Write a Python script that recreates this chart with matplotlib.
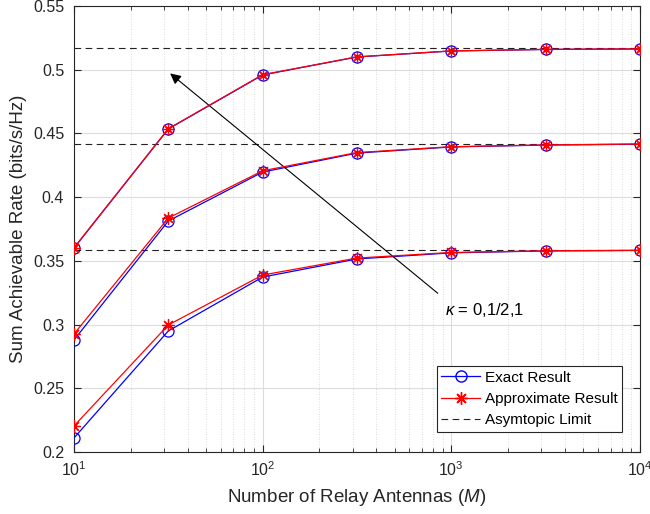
import numpy as np
import matplotlib
matplotlib.use("Agg")
import matplotlib.pyplot as plt
from matplotlib.ticker import LogLocator, NullFormatter
from matplotlib.lines import Line2D

plt.rcParams['font.family'] = ['Liberation Sans', 'DejaVu Sans']
plt.rcParams['mathtext.fontset'] = 'custom'
plt.rcParams['mathtext.rm'] = 'Liberation Sans'
plt.rcParams['mathtext.it'] = 'Liberation Sans:italic'

M = [10, 31.62, 100, 316.2, 1000, 3162, 10000]

exact = [
    [0.360, 0.4535, 0.4959, 0.5100, 0.5147, 0.5159, 0.5163],
    [0.2879, 0.3813, 0.4197, 0.4346, 0.4394, 0.4409, 0.4416],
    [0.2110, 0.2950, 0.3373, 0.3515, 0.3563, 0.3578, 0.3582],
]
approx = [
    [0.3603, 0.4537, 0.4961, 0.5101, 0.5148, 0.5160, 0.5164],
    [0.2926, 0.3836, 0.4207, 0.4350, 0.4396, 0.4410, 0.4417],
    [0.2204, 0.2997, 0.3389, 0.3522, 0.3566, 0.3579, 0.3583],
]
limits = [0.5170, 0.4418, 0.3585]

fig = plt.figure(figsize=(6.5, 5.14), dpi=100)
ax = fig.add_axes([0.1138, 0.1206, 0.8708, 0.8677])

for e, a, lim in zip(exact, approx, limits):
    ax.plot([M[0], M[-1]], [lim, lim], '--', color='#222222', lw=0.8, dashes=(6, 4), zorder=2)
    ax.plot(M, e, '-', color='blue', lw=0.9, marker='o', ms=8, mfc='none', mec='blue', mew=0.9, zorder=3)
    ax.plot(M, a, '-', color='red', lw=0.9, marker=(8, 2, 0), ms=9, mec='red', mew=0.9, zorder=4)

ax.set_xscale('log')
ax.set_xlim(10, 1e4)
ax.set_ylim(0.2, 0.55)
ax.set_yticks([0.2, 0.25, 0.3, 0.35, 0.4, 0.45, 0.5, 0.55])
ax.set_yticklabels(['0.2', '0.25', '0.3', '0.35', '0.4', '0.45', '0.5', '0.55'])
ax.set_xticks([10, 100, 1000, 10000])
ax.set_xticklabels([r'$10^{1}$', r'$10^{2}$', r'$10^{3}$', r'$10^{4}$'])
ax.xaxis.set_minor_locator(LogLocator(base=10, subs=np.arange(2, 10)))
ax.xaxis.set_minor_formatter(NullFormatter())

ax.grid(True, which='major', color='#dcdcdc', lw=0.8, ls='-')
ax.grid(True, which='minor', axis='x', color='#d0d0d0', lw=0.6, ls=(0, (1, 2)))
ax.set_axisbelow(True)

ax.tick_params(which='both', direction='in', top=True, right=True, labelsize=11.5, colors='#262626')
ax.tick_params(which='major', length=5, width=0.8)
ax.tick_params(which='minor', length=3, width=0.6)
ax.tick_params(axis='y', pad=7)
ax.tick_params(axis='x', pad=6)
for s in ax.spines.values():
    s.set_color('#262626')
    s.set_linewidth(0.8)

ax.set_xlabel(r'Number of Relay Antennas ($\mathit{M}$)', fontsize=13.5, color='#262626', labelpad=6)
ax.set_ylabel('Sum Achievable Rate (bits/s/Hz)', fontsize=13.5, color='#262626', labelpad=4)

ax.annotate('', xy=(31.5, 0.4985), xytext=(870, 0.3232),
            arrowprops=dict(arrowstyle='-|>', color='black', lw=0.8, mutation_scale=16))
ax.text(925, 0.3114, r'$\kappa$ = 0,1/2,1', fontsize=12, va='center', ha='left')

handles = [
    Line2D([], [], color='blue', lw=0.9, marker='o', ms=8, mfc='none', mec='blue'),
    Line2D([], [], color='red', lw=0.9, marker=(8, 2, 0), ms=9, mec='red'),
    Line2D([], [], color='#222222', lw=0.8, ls='--', dashes=(6, 4)),
]
leg = ax.legend(handles, ['Exact Result', 'Approximate Result', 'Asymtopic Limit'],
                loc='lower right', bbox_to_anchor=(0.968, 0.045), fontsize=11,
                frameon=True, fancybox=False, edgecolor='#262626', framealpha=1,
                handlelength=2.55, handletextpad=0.28, borderpad=0.3, labelspacing=0.48,
                borderaxespad=0)
leg.get_frame().set_linewidth(0.8)

fig.savefig('out.png', dpi=100)
